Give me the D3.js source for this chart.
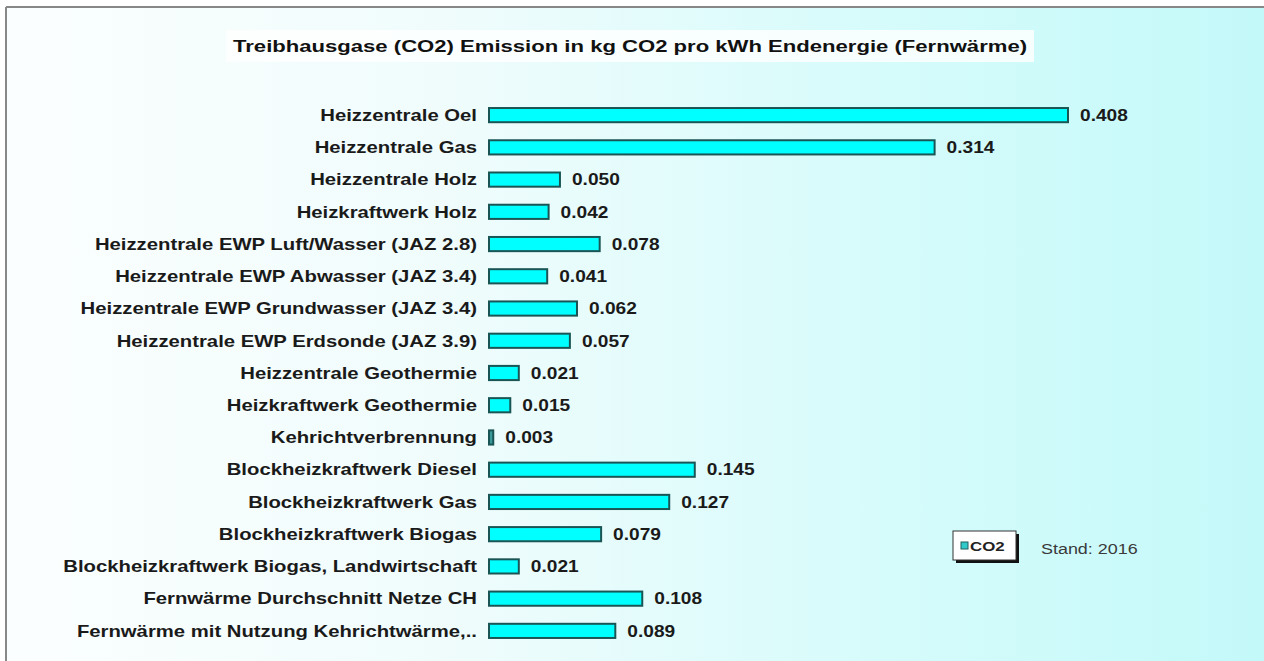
<!DOCTYPE html>
<html><head><meta charset="utf-8">
<script src="https://cdn.jsdelivr.net/npm/d3@7"></script>
<style>body{margin:0;background:#fff;}svg{display:block;}</style>
</head><body>
<script>
const categories = [
  "Heizzentrale Oel","Heizzentrale Gas","Heizzentrale Holz","Heizkraftwerk Holz",
  "Heizzentrale EWP Luft/Wasser (JAZ 2.8)","Heizzentrale EWP Abwasser (JAZ 3.4)",
  "Heizzentrale EWP Grundwasser (JAZ 3.4)","Heizzentrale EWP Erdsonde (JAZ 3.9)",
  "Heizzentrale Geothermie","Heizkraftwerk Geothermie","Kehrichtverbrennung",
  "Blockheizkraftwerk Diesel","Blockheizkraftwerk Gas","Blockheizkraftwerk Biogas",
  "Blockheizkraftwerk Biogas, Landwirtschaft","Fernwärme Durchschnitt Netze CH",
  "Fernwärme mit Nutzung Kehrichtwärme,.."
];
const co2Values = [0.408,0.314,0.050,0.042,0.078,0.041,0.062,0.057,0.021,0.015,0.003,0.145,0.127,0.079,0.021,0.108,0.089];
const seriesName = "CO2";
const titleText = "Treibhausgase (CO2) Emission in kg CO2 pro kWh Endenergie (Fernwärme)";
const noteText = "Stand: 2016";

const W = 1264, H = 661;
const svg = d3.select("body").append("svg").attr("width", W).attr("height", H);
const defs = svg.append("defs");
const grad = defs.append("linearGradient").attr("id","bg").attr("x1","0").attr("x2","1").attr("y1","0").attr("y2","0");
grad.append("stop").attr("offset","0%").attr("stop-color","#fbfefe");
grad.append("stop").attr("offset","35%").attr("stop-color","#f0fcfc");
grad.append("stop").attr("offset","70%").attr("stop-color","#d6fbfb");
grad.append("stop").attr("offset","100%").attr("stop-color","#c4f9f9");

svg.append("rect").attr("x",0).attr("y",0).attr("width",W).attr("height",H).attr("fill","#fff");
svg.append("rect").attr("x",6).attr("y",7).attr("width",W-6).attr("height",H-7).attr("fill","url(#bg)");
svg.append("line").attr("x1",6).attr("x2",6).attr("y1",7).attr("y2",H).attr("stroke","#888").attr("stroke-width",2);
svg.append("line").attr("x1",6).attr("x2",W).attr("y1",7).attr("y2",7).attr("stroke","#888").attr("stroke-width",2);

const font = "'Liberation Sans', Arial, sans-serif";

// title
svg.append("rect").attr("x",226).attr("y",30).attr("width",808).attr("height",32).attr("fill","#fff").attr("opacity",0.8);
svg.append("g").attr("transform","translate(630,52) scale(1.3,1)")
  .append("text").attr("x",0).attr("y",0).attr("text-anchor","middle")
  .attr("font-family",font).attr("font-weight","bold").attr("font-size",17).attr("fill","#111").text(titleText);

const x = d3.scaleLinear().domain([0, 0.408]).range([489, 1068]);
const y = d3.scaleBand().domain(categories).range([99, 647]).paddingInner(0.56).paddingOuter(0.28);

const g = svg.append("g");
g.selectAll("rect.bar").data(categories).join("rect").attr("class","bar")
  .attr("x", x(0)).attr("y", d => y(d))
  .attr("width", (d,i) => Math.max(1, x(co2Values[i]) - x(0)))
  .attr("height", y.bandwidth())
  .attr("fill", (d,i) => co2Values[i] < 0.005 ? "#3a9a9a" : "#00ffff")
  .attr("stroke","#1a5555").attr("stroke-width",2);

g.selectAll("g.cat").data(categories).join("g").attr("class","cat")
  .attr("transform", d => `translate(477,${y(d) + y.bandwidth()/2}) scale(1.23,1)`)
  .append("text").attr("dy","0.35em")
  .attr("text-anchor","end").attr("font-family",font).attr("font-weight","bold")
  .attr("font-size",16.5).attr("fill","#1a1a1a").text(d => d);

g.selectAll("g.val").data(categories).join("g").attr("class","val")
  .attr("transform", (d,i) => `translate(${x(co2Values[i]) + 12},${y(d) + y.bandwidth()/2}) scale(1.16,1)`)
  .append("text").attr("dy","0.35em")
  .attr("font-family",font).attr("font-weight","bold")
  .attr("font-size",16.5).attr("fill","#1a1a1a").text((d,i) => d3.format(".3f")(co2Values[i]));

// legend
const lg = svg.append("g").attr("transform","translate(953,531)");
lg.append("rect").attr("x",3).attr("y",3).attr("width",63).attr("height",29).attr("fill","#111");
lg.append("rect").attr("x",0).attr("y",0).attr("width",63).attr("height",29).attr("fill","#fff").attr("stroke","#333").attr("stroke-width",1);
lg.append("rect").attr("x",8).attr("y",11).attr("width",7).attr("height",7).attr("fill","#2fc9c9").attr("stroke","#1f5f5f").attr("stroke-width",1);
lg.append("g").attr("transform","translate(17,19.5) scale(1.25,1)")
  .append("text").attr("font-family",font).attr("font-weight","bold").attr("font-size",13.5).attr("fill","#222").text(seriesName);

svg.append("g").attr("transform","translate(1041,554) scale(1.18,1)")
  .append("text").attr("font-family",font).attr("font-size",15.2).attr("fill","#3a3a3a").text(noteText);
</script>
</body></html>
